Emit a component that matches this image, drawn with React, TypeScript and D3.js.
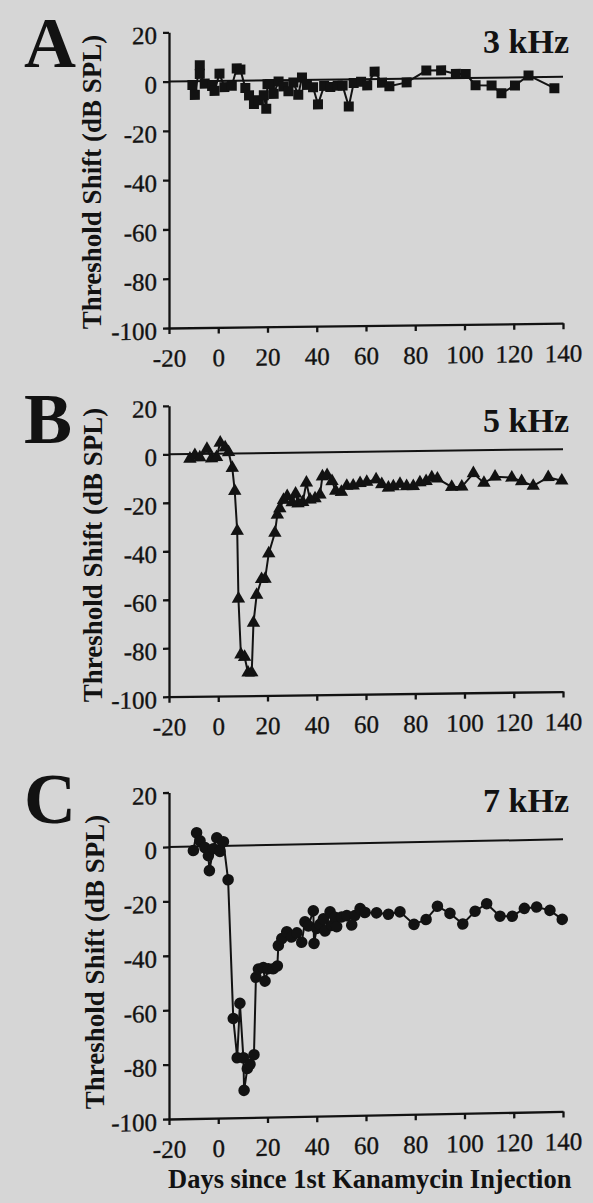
import React, { useEffect, useRef } from "react";
import * as d3 from "d3";

// Panel A - 3 kHz (squares)
const daysA = [-10.5, -9.5, -7.5, -7.5, -5.5, -2.5, -1.5, 0.5, 2.5, 5.5, 7.5, 9, 11, 12.5, 14.5, 16.5, 18.5, 19.5, 20, 21, 22.5, 24.5, 26.5, 28.5, 30.5, 32.5, 34, 36, 38.5, 40.5, 43, 45.5, 48.5, 50.5, 53, 55, 58, 60.5, 63.5, 66.5, 69.5, 76.5, 84.5, 90.5, 96.5, 100.5, 104.5, 111, 115, 120.5, 126, 136.5];
const shiftA = [-1.5, -5.5, 6.5, 3, -1, -2, -4, 3, -2.5, -2, 5, 4.5, -3, -6, -9.5, -8, -6, -11.5, -1.5, -1.5, -5.5, -0.5, -2.5, -4.5, -1, -6, 1, -2, -3, -10, -2.5, -3, -2.5, -2.5, -11, -1.5, -1, -2.5, 3, -1.5, -3, -1.5, 3.2, 3.2, 1.7, 1.6, -3, -3.2, -6.4, -3.3, 0.7, -4.6];

// Panel B - 5 kHz (triangles)
const daysB = [-11.5, -9.5, -7.5, -4.6, -2.7, -0.7, 0.8, 2.8, 4.2, 5.7, 6.7, 7.7, 8.2, 9.2, 10.7, 12.1, 13.6, 14.3, 15.6, 17.6, 19, 20.5, 23, 24, 25, 26.5, 28, 30, 31.4, 32.4, 34.3, 35.8, 37.3, 39.3, 41.3, 42.3, 44.2, 46.2, 47.7, 50, 52.2, 54.8, 57.6, 60.3, 64.1, 66.4, 69.1, 71.1, 73.8, 76.5, 79.2, 81.9, 84.4, 86.7, 89, 94.8, 98.9, 103.6, 107.9, 112.4, 119.2, 123.2, 127.9, 134, 139.5];
const shiftB = [-2, -0.5, -1.5, 2, -2, -1.5, 4.5, 2.5, 0.5, -6, -15.5, -32, -60, -83, -84, -90.5, -90.5, -70, -58.5, -52, -52, -41.5, -33, -25.5, -23, -19.5, -18, -20.5, -17, -21, -20.5, -12.5, -19.5, -19, -17.5, -10, -9.5, -12, -16, -16.5, -14, -14, -13, -12.5, -11.5, -13.5, -15, -14.5, -13.5, -14.5, -14.5, -13, -12.5, -11, -11.5, -15, -15, -9.5, -13.5, -11, -11.5, -13, -15, -11.5, -13];

// Panel C - 7 kHz (circles)
const daysC = [-10.1, -8.8, -7.4, -5.4, -4, -3.6, -2, -0.6, 0.7, 2.1, 4, 6.1, 7.7, 8.8, 10.2, 10.5, 11.8, 12.9, 14.5, 15.3, 16.3, 18.3, 19, 20.3, 22.4, 24, 24.4, 25.8, 27.8, 29.8, 31.9, 33.9, 35.2, 36.6, 38.6, 38.9, 40, 41.3, 42.7, 43.4, 45.4, 46.1, 47.4, 48.1, 50.1, 52.2, 54.2, 55.5, 57.6, 59.6, 64.3, 69.1, 73.8, 79.5, 84.4, 89, 94.1, 99.3, 104.3, 109, 114.4, 119.4, 124.3, 129.3, 134.7, 139.7];
const shiftC = [-1.5, 5, 2, -0.5, -3.5, -9, -1, 3, -2, 1.5, -12.5, -63.5, -78, -58, -78, -90, -82, -80.5, -77, -48.5, -45.5, -45, -50, -45.5, -45.5, -44.5, -37, -34.5, -32, -34, -32.5, -36, -28.5, -30, -24.5, -36.5, -31, -29.5, -27.5, -32, -25, -30, -27, -30.5, -27, -26.5, -30, -26.5, -24, -25.5, -25.7, -26.3, -25.5, -30.2, -28.5, -23.7, -26.4, -30.4, -25.8, -23.1, -27.8, -27.9, -25.1, -24.7, -26, -29.4];

const xTicks = [-20, 0, 20, 40, 60, 80, 100, 120, 140];
const yTicks = [-100, -80, -60, -40, -20, 0, 20];
const panelLetters = ["A", "B", "C"];
const freqLabels = ["3 kHz", "5 kHz", "7 kHz"];
const yTitle = "Threshold Shift (dB SPL)";
const xTitle = "Days since 1st Kanamycin Injection";

const W = 593;
const H = 1203;
const FONT = "'Liberation Serif', 'Times New Roman', serif";
const INK = "#121212";
const PAPER = "#d6d6d6";

const panels = [
  { days: daysA, shift: shiftA, symbol: d3.symbolSquare, size: 100, top: 32.3, bottom: 328, skew: 0.7, letterY: 67, freqY: 53, titleX: 101, titleY: 182 },
  { days: daysB, shift: shiftB, symbol: d3.symbolTriangle, size: 78, top: 405.8, bottom: 696.7, skew: 0.75, letterY: 443, freqY: 432, titleX: 102, titleY: 555 },
  { days: daysC, shift: shiftC, symbol: d3.symbolCircle, size: 105, top: 792.5, bottom: 1119, skew: 1.1, letterY: 823, freqY: 812, titleX: 104, titleY: 962 },
];

const App = () => {
  const ref = useRef<SVGSVGElement>(null);

  useEffect(() => {
    const svg = d3.select(ref.current);
    svg.selectAll("*").remove();

    svg.append("rect").attr("width", W).attr("height", H).attr("fill", PAPER);

    const x = d3.scaleLinear().domain([-20, 140]).range([169, 563]);

    panels.forEach((p, i) => {
      const y = d3.scaleLinear().domain([-100, 20]).range([p.bottom, p.top]);

      // scanned page is slightly sheared, so the plot leans up to the right
      const g = svg
        .append("g")
        .attr("transform", `translate(169,0) skewY(${-p.skew}) translate(-169,0)`);

      const yAxis = d3.axisLeft(y)
        .tickValues(yTicks)
        .tickSize(6)
        .tickSizeOuter(0)
        .tickPadding(6)
        .tickFormat(d => String(d));

      const yg = g.append("g")
        .attr("transform", "translate(169,0)")
        .call(yAxis);
      yg.selectAll("text").attr("dy", "0.44em");

      const xAxis = d3.axisBottom(x)
        .tickValues(xTicks)
        .tickSize(6)
        .tickSizeOuter(0)
        .tickPadding(15)
        .tickFormat(d => String(d));

      const xg = g.append("g")
        .attr("transform", `translate(0,${p.bottom})`)
        .call(xAxis);

      [yg, xg].forEach(ax => {
        ax.attr("font-family", FONT).attr("font-size", 25).style("color", INK);
        ax.selectAll("path, line").attr("stroke-width", 2.3);
        ax.selectAll("text").attr("stroke", INK).attr("stroke-width", 0.35);
      });

      // zero reference line
      g.append("line")
        .attr("x1", x(-20))
        .attr("x2", x(140))
        .attr("y1", y(0))
        .attr("y2", y(0))
        .attr("stroke", INK)
        .attr("stroke-width", 2);

      const pts: [number, number][] = p.days.map((d, k) => [d, p.shift[k]]);

      const line = d3.line<[number, number]>()
        .x(d => x(d[0]))
        .y(d => y(d[1]));

      g.append("path")
        .datum(pts)
        .attr("d", line)
        .attr("fill", "none")
        .attr("stroke", INK)
        .attr("stroke-width", 2);

      g.selectAll(".mark")
        .data(pts)
        .enter()
        .append("path")
        .attr("class", "mark")
        .attr("transform", d => `translate(${x(d[0])},${y(d[1])})`)
        .attr("d", d3.symbol().type(p.symbol).size(p.size))
        .attr("fill", INK);

      // panel letter
      svg.append("text")
        .attr("x", 24)
        .attr("y", p.letterY)
        .attr("font-family", FONT)
        .attr("font-weight", "bold")
        .attr("font-size", 72)
        .attr("fill", INK)
        .text(panelLetters[i]);

      // frequency label
      svg.append("text")
        .attr("x", 569)
        .attr("y", p.freqY)
        .attr("text-anchor", "end")
        .attr("font-family", FONT)
        .attr("font-weight", "bold")
        .attr("font-size", 34)
        .attr("fill", INK)
        .text(freqLabels[i]);

      // y axis title
      svg.append("text")
        .attr("transform", `translate(${p.titleX},${p.titleY}) rotate(-90)`)
        .attr("text-anchor", "middle")
        .attr("font-family", FONT)
        .attr("font-weight", "bold")
        .attr("font-size", 27)
        .attr("fill", INK)
        .text(yTitle);
    });

    svg.append("text")
      .attr("x", 168)
      .attr("y", 1188)
      .attr("font-family", FONT)
      .attr("font-weight", "bold")
      .attr("font-size", 26.5)
      .attr("fill", INK)
      .text(xTitle);
  }, []);

  return (
    <svg
      ref={ref}
      width={W}
      height={H}
      style={{ position: "absolute", left: 0, top: 0, display: "block" }}
    />
  );
};

export default App;
